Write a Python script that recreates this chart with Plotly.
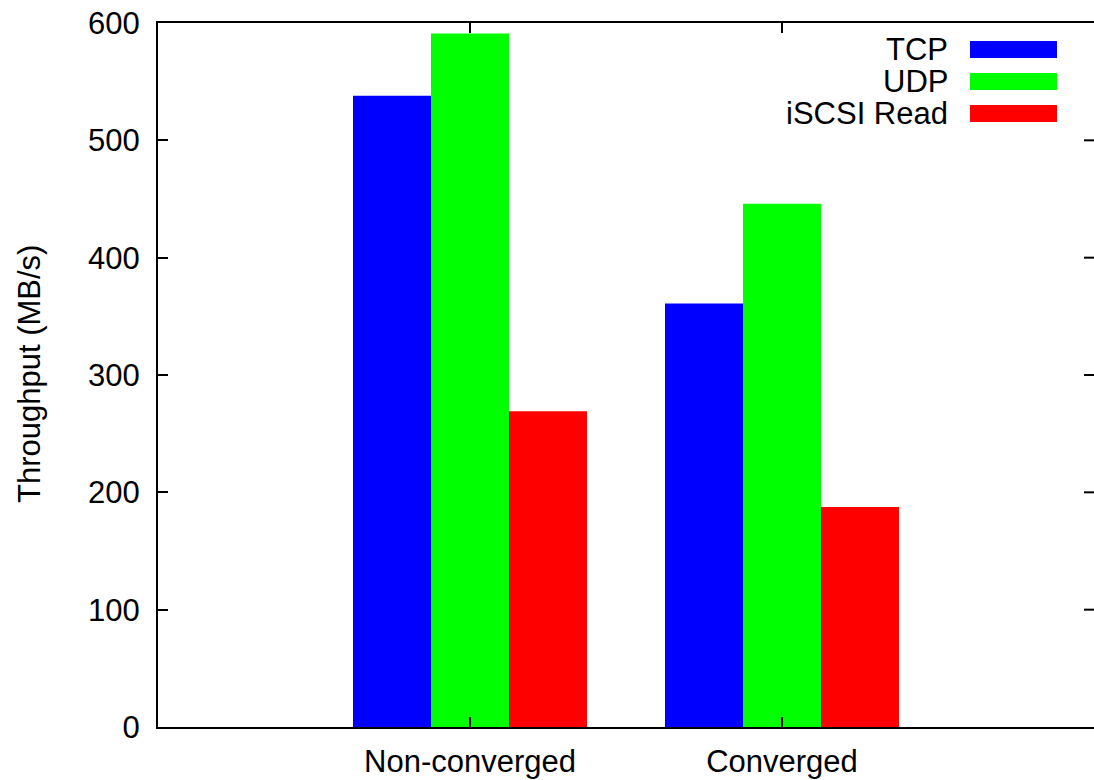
import plotly.graph_objects as go

# Throughput per configuration
categories = ["Non-converged", "Converged"]
series_names = ["TCP", "UDP", "iSCSI Read"]
tcp = [538, 361]
udp = [591, 446]
iscsi_read = [269, 187.5]
y_ticks = [0, 100, 200, 300, 400, 500, 600]

colors = ["#0000ff", "#00ff00", "#ff0000"]
series_values = [tcp, udp, iscsi_read]

W, H = 1094, 780
ML, MR, MT, MB = 158, 0, 23, 53
PW, PH = W - ML - MR, H - MT - MB
FONT = "Liberation Sans, Arial, Helvetica, sans-serif"
FS = 31
TICKLEN = 10

fig = go.Figure()
x_pos = list(range(len(categories)))
for name, vals, col in zip(series_names, series_values, colors):
    fig.add_trace(go.Bar(
        x=x_pos, y=vals, name=name,
        marker=dict(color=col, line=dict(width=0)),
        showlegend=False,
    ))

axis_common = dict(
    showline=True, linecolor="black", linewidth=2,
    ticks="inside", ticklen=TICKLEN, tickwidth=2, tickcolor="black",
    showgrid=False, zeroline=False, automargin=False,
    tickfont=dict(family=FONT, size=FS, color="black"),
)

fig.update_layout(
    width=W, height=H,
    margin=dict(l=ML, r=MR, t=MT, b=MB, pad=0),
    paper_bgcolor="white", plot_bgcolor="white",
    barmode="group", bargap=0.25, bargroupgap=0,
    font=dict(family=FONT, size=FS, color="black"),
    xaxis=dict(range=[-1, 2], tickmode="array", tickvals=x_pos,
               ticktext=categories, ticklabelstandoff=6, mirror="ticks",
               **axis_common),
    yaxis=dict(range=[0, 600], tickmode="array", tickvals=y_ticks,
               ticklabelstandoff=10, mirror=False, **axis_common),
)

def px_x(p):
    return (p - ML) / PW

def px_y(p):
    return (H - MB - p) / PH

# Right-hand tick marks (frame edge sits at the page border)
for v in y_ticks[1:-1]:
    fig.add_shape(
        type="line", xref="paper", yref="y",
        x0=1 - TICKLEN / PW, x1=1, y0=v, y1=v,
        line=dict(color="black", width=2),
    )

# Vertical axis title
fig.add_annotation(
    xref="paper", yref="paper", x=px_x(29), y=px_y(374),
    xanchor="center", yanchor="middle", textangle=-90,
    text="Throughput (MB/s)", showarrow=False,
    font=dict(family=FONT, size=FS, color="black"),
)

# Key in the upper-right corner: label plus a wide colour bar per series
row_centers = [49.5, 81.5, 113.5]
for name, col, cy in zip(series_names, colors, row_centers):
    fig.add_annotation(
        xref="paper", yref="paper", x=px_x(950), y=px_y(cy),
        xanchor="right", yanchor="middle", text=name, showarrow=False,
        font=dict(family=FONT, size=FS, color="black"),
    )
    fig.add_shape(
        type="rect", xref="paper", yref="paper",
        x0=px_x(970), x1=px_x(1057), y0=px_y(cy - 8.5), y1=px_y(cy + 8.5),
        fillcolor=col, line=dict(width=0),
    )

fig.write_html("out.html")
